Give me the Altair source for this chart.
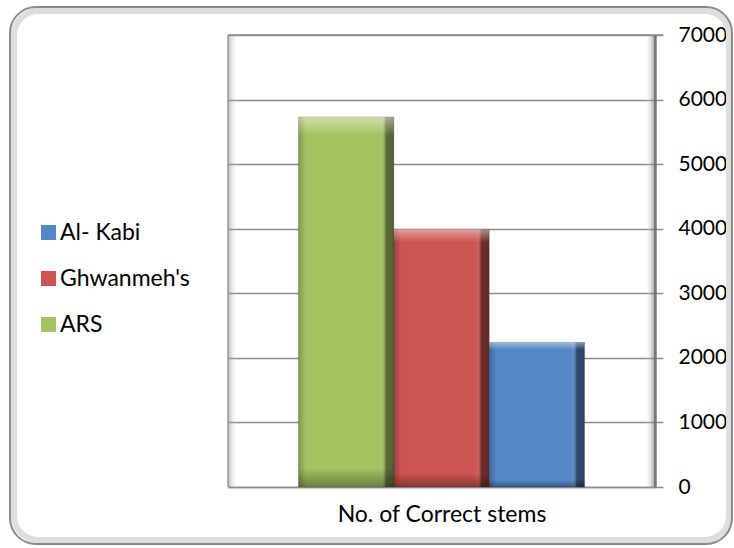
import altair as alt
import pandas as pd

# ---- data ----
series = ["ARS", "Ghwanmeh's", "Al- Kabi"]
values = [5730, 3990, 2240]
legend_order = ["Al- Kabi", "Ghwanmeh's", "ARS"]
legend_colors = ["#5587C8", "#CC5451", "#A3C461"]
y_ticks = [0, 1000, 2000, 3000, 4000, 5000, 6000, 7000]
x_title = "No. of Correct stems"

FONT = "Lato"
W, H = 427, 452

df = pd.DataFrame({"series": series, "value": values})
one = pd.DataFrame({"k": [0]})

xenc = alt.X(
    "series:N",
    sort=series,
    scale=alt.Scale(paddingInner=0, paddingOuter=0.74),
    axis=alt.Axis(
        title=x_title, labels=False, ticks=False, domain=True,
        domainColor="#8c8c8c", domainWidth=1.5,
        titleFontSize=23, titleFont=FONT, titleFontWeight="normal",
        titleColor="#000000", titlePadding=16,
    ),
)
yenc = alt.Y(
    "value:Q",
    scale=alt.Scale(domain=[0, 7000], nice=False),
    axis=alt.Axis(
        orient="right", values=y_ticks, grid=True, gridColor="#8c8c8c",
        gridWidth=1.5, domainColor="#7a7a7a", domainWidth=2.5,
        tickColor="#8c8c8c", tickWidth=1.5, tickSize=8, labelFontSize=21,
        labelFont=FONT, labelColor="#000000", labelPadding=15, title=None,
        format="d",
    ),
)

# outer rounded frame (with a soft inner shadow)
frame_shadow = alt.Chart(one).mark_rect(
    fill="transparent", stroke="#dedede", strokeWidth=6, cornerRadius=24
).encode(
    x=alt.value(-214), x2=alt.value(501), y=alt.value(-24), y2=alt.value(505)
)
frame = alt.Chart(one).mark_rect(
    fill="transparent", stroke="#8a8a8a", strokeWidth=2, cornerRadius=26
).encode(
    x=alt.value(-218), x2=alt.value(504), y=alt.value(-28), y2=alt.value(509)
)

# plot wall shading
left_wall = alt.Chart(one).mark_rect(
    fill=alt.Gradient(gradient="linear", x1=0, x2=1, y1=0, y2=0,
                      stops=[alt.GradientStop(color="rgba(120,120,120,0.5)", offset=0),
                             alt.GradientStop(color="rgba(255,255,255,0)", offset=1)])
).encode(x=alt.value(0), x2=alt.value(10), y=alt.value(0), y2=alt.value(H))
right_wall = alt.Chart(one).mark_rect(
    fill=alt.Gradient(gradient="linear", x1=0, x2=1, y1=0, y2=0,
                      stops=[alt.GradientStop(color="rgba(255,255,255,0)", offset=0),
                             alt.GradientStop(color="rgba(90,90,90,0.6)", offset=1)])
).encode(x=alt.value(W - 10), x2=alt.value(W), y=alt.value(0), y2=alt.value(H))
left_line = alt.Chart(one).mark_rule(color="#9a9a9a", strokeWidth=1.5).encode(
    x=alt.value(0), y=alt.value(0), y2=alt.value(H))
top_line = alt.Chart(one).mark_rule(color="#8c8c8c", strokeWidth=1.5).encode(
    x=alt.value(0), x2=alt.value(W + 8), y=alt.value(0))

bars = alt.Chart(df).mark_bar(stroke="#4a4a4a", strokeWidth=0.6, strokeOpacity=0.5).encode(
    x=xenc,
    y=yenc,
    color=alt.Color(
        "series:N",
        scale=alt.Scale(domain=legend_order, range=legend_colors),
        legend=alt.Legend(
            title=None, orient="none", legendX=-191, legendY=186,
            symbolType="square", symbolSize=225, symbolStrokeWidth=0,
            labelFontSize=23, labelFont=FONT, labelColor="#000000",
            labelOffset=0, rowPadding=22, symbolOpacity=1,
        ),
    ),
)

shade_h = alt.Chart(df).mark_bar(
    fill=alt.Gradient(gradient="linear", x1=0, x2=1, y1=0, y2=0, stops=[
        alt.GradientStop(color="rgba(0,0,0,0.22)", offset=0),
        alt.GradientStop(color="rgba(0,0,0,0.0)", offset=0.08),
        alt.GradientStop(color="rgba(255,255,255,0.0)", offset=0.86),
        alt.GradientStop(color="rgba(0,0,0,0.45)", offset=0.92),
        alt.GradientStop(color="rgba(0,0,0,0.5)", offset=1),
    ])
).encode(x=alt.X("series:N", sort=series), y="value:Q")

shade_v = alt.Chart(df).mark_bar(
    fill=alt.Gradient(gradient="linear", x1=0, x2=0, y1=0, y2=1, stops=[
        alt.GradientStop(color="rgba(255,255,255,0.45)", offset=0),
        alt.GradientStop(color="rgba(255,255,255,0.0)", offset=0.05),
        alt.GradientStop(color="rgba(0,0,0,0.0)", offset=0.95),
        alt.GradientStop(color="rgba(0,0,0,0.35)", offset=1),
    ])
).encode(x=alt.X("series:N", sort=series), y="value:Q")

chart = alt.layer(
    frame_shadow, frame, left_wall, right_wall, left_line, top_line,
    bars, shade_h, shade_v
).properties(
    width=W, height=H,
    autosize=alt.AutoSizeParams(type="none"),
    padding={"left": 228, "top": 35, "right": 79, "bottom": 61},
    background="white",
).configure_view(stroke=None)

chart.save("out.html", embed_options={"renderer": "svg", "actions": False})
